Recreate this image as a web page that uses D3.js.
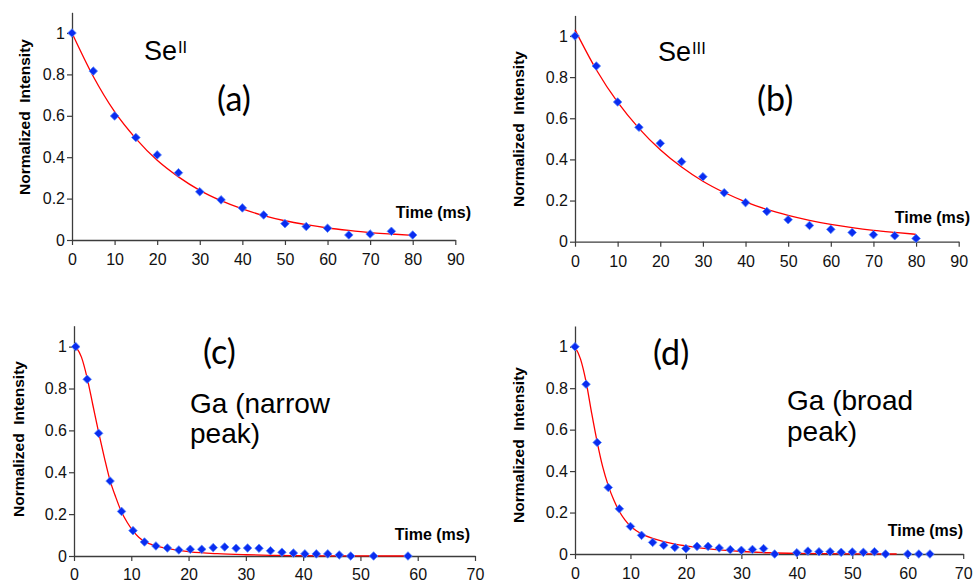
<!DOCTYPE html>
<html>
<head>
<meta charset="utf-8">
<script src="https://cdn.jsdelivr.net/npm/d3@7/dist/d3.min.js"></script>
<style>
  html, body { margin: 0; padding: 0; background: #fff; }
  svg { display: block; }
</style>
</head>
<body>
<svg id="chart" width="973" height="584"></svg>
<script>
// ---------- DATA ----------
const yTicks = [0, 0.2, 0.4, 0.6, 0.8, 1];
const xTicksSe = [0, 10, 20, 30, 40, 50, 60, 70, 80, 90];
const xTicksGa = [0, 10, 20, 30, 40, 50, 60, 70];

// (a) Se II
const timesA = [0, 5, 10, 15, 20, 25, 30, 35, 40, 45, 50, 55, 60, 65, 70, 75, 80];
const valuesA = [1.0, 0.816, 0.599, 0.495, 0.411, 0.325, 0.233, 0.194, 0.155, 0.121, 0.079, 0.065, 0.057, 0.024, 0.029, 0.042, 0.024];
const fitTimesA = [0, 5, 10, 15, 20, 25, 30, 35, 40, 45, 50, 55, 60, 65, 70, 75, 80];
const fitValuesA = [1.0, 0.79, 0.62, 0.49, 0.385, 0.305, 0.24, 0.19, 0.15, 0.118, 0.093, 0.074, 0.058, 0.046, 0.036, 0.029, 0.022];

// (b) Se III
const timesB = [0, 5, 10, 15, 20, 25, 30, 35, 40, 45, 50, 55, 60, 65, 70, 75, 80];
const valuesB = [1.0, 0.854, 0.679, 0.556, 0.478, 0.389, 0.316, 0.238, 0.190, 0.147, 0.107, 0.079, 0.060, 0.045, 0.034, 0.029, 0.016];
const fitTimesB = [0, 5, 10, 15, 20, 25, 30, 35, 40, 45, 50, 55, 60, 65, 70, 75, 80];
const fitValuesB = [1.03, 0.836, 0.678, 0.551, 0.447, 0.363, 0.294, 0.239, 0.194, 0.157, 0.128, 0.104, 0.084, 0.068, 0.055, 0.045, 0.036];

// (c) Ga narrow peak
const timesC = [0.3, 2.3, 4.3, 6.3, 8.3, 10.3, 12.3, 14.3, 16.3, 18.3, 20.3, 22.3, 24.3, 26.3, 28.3, 30.3, 32.3, 34.3, 36.3, 38.3, 40.3, 42.3, 44.3, 46.3, 48.3, 52.3, 58.3];
const valuesC = [1.0, 0.844, 0.586, 0.358, 0.213, 0.121, 0.067, 0.048, 0.038, 0.029, 0.032, 0.032, 0.040, 0.043, 0.037, 0.038, 0.037, 0.025, 0.018, 0.014, 0.010, 0.010, 0.010, 0.005, 0.0, 0.0, 0.0];
const fitTimesC = [0.3, 1.3, 2.3, 3.3, 4.3, 5.3, 6.3, 7.3, 8.3, 9.3, 10.3, 11.3, 12.3, 14.3, 16.3, 18.3, 20.3, 25, 30, 35, 40, 50, 58.3];
const fitValuesC = [1.0, 0.95, 0.85, 0.72, 0.59, 0.47, 0.36, 0.28, 0.21, 0.16, 0.12, 0.09, 0.07, 0.048, 0.036, 0.027, 0.02, 0.011, 0.006, 0.003, 0.0015, 0.0003, 0.0];

// (d) Ga broad peak
const timesD = [0, 2, 4, 6, 8, 10, 12, 14, 16, 18, 20, 22, 24, 26, 28, 30, 32, 34, 36, 40, 42, 44, 46, 48, 50, 52, 54, 56, 60, 62, 64];
const valuesD = [1.0, 0.819, 0.538, 0.321, 0.218, 0.133, 0.090, 0.056, 0.042, 0.032, 0.026, 0.037, 0.037, 0.029, 0.021, 0.018, 0.022, 0.026, 0.0, 0.006, 0.014, 0.011, 0.011, 0.008, 0.010, 0.008, 0.011, 0.0, 0.0, 0.0, 0.0];
const fitTimesD = [0, 1, 2, 3, 4, 5, 6, 7, 8, 9, 10, 11, 12, 14, 16, 18, 20, 25, 30, 35, 40, 50, 58];
const fitValuesD = [1.0, 0.94, 0.83, 0.68, 0.54, 0.42, 0.33, 0.26, 0.205, 0.165, 0.135, 0.113, 0.097, 0.075, 0.06, 0.048, 0.039, 0.022, 0.012, 0.006, 0.003, 0.001, 0.0];

// ---------- LAYOUT ----------
const panels = [
  { times: timesA, values: valuesA, fitT: fitTimesA, fitV: fitValuesA, xMax: 90, xTicks: xTicksSe,
    xr: [72, 455.3], yr: [240, 12.3], labPad: 9,
    yTitle: { x: 30, y: 117 }, timeLbl: { x: 471, y: 218 } },
  { times: timesB, values: valuesB, fitT: fitTimesB, fitV: fitValuesB, xMax: 90, xTicks: xTicksSe,
    xr: [575, 958.7], yr: [241.7, 15.4], labPad: 9,
    yTitle: { x: 524, y: 129 }, timeLbl: { x: 970, y: 223 } },
  { times: timesC, values: valuesC, fitT: fitTimesC, fitV: fitValuesC, xMax: 70, xTicks: xTicksGa,
    xr: [74, 475], yr: [556, 325.7], labPad: 8,
    yTitle: { x: 23.5, y: 439 }, timeLbl: { x: 470, y: 540 } },
  { times: timesD, values: valuesD, fitT: fitTimesD, fitV: fitValuesD, xMax: 70, xTicks: xTicksGa,
    xr: [575, 963.2], yr: [554, 326], labPad: 9,
    yTitle: { x: 523.5, y: 445 }, timeLbl: { x: 963, y: 536 } }
];

const svg = d3.select("#chart");
svg.append("rect").attr("width", 973).attr("height", 584).attr("fill", "#fff");

const AXIS_COLOR = "#3c3c3c";
const diamond = "M0,-4.3L4.3,0L0,4.3L-4.3,0Z";

panels.forEach(p => {
  const x = d3.scaleLinear().domain([0, p.xMax]).range(p.xr);
  const y = d3.scaleLinear().domain([0, 1.1]).range(p.yr);

  const gy = svg.append("g")
    .attr("transform", `translate(${p.xr[0]},0)`)
    .call(d3.axisLeft(y).tickValues(yTicks).tickSize(5).tickSizeOuter(0).tickPadding(2)
      .tickFormat(d => String(d)));
  const gx = svg.append("g")
    .attr("transform", `translate(0,${p.yr[0]})`)
    .call(d3.axisBottom(x).tickValues(p.xTicks).tickSize(5).tickSizeOuter(0).tickPadding(p.labPad)
      .tickFormat(d => String(d)));

  [gx, gy].forEach(g => {
    g.selectAll("path.domain").attr("stroke", AXIS_COLOR).attr("stroke-width", 1.3);
    g.selectAll(".tick line").attr("stroke", AXIS_COLOR).attr("stroke-width", 1.2);
    g.selectAll(".tick text")
      .attr("fill", "#111")
      .attr("font-family", "'Liberation Sans', Arial, sans-serif")
      .attr("font-size", 16);
  });

  const fit = p.fitT.map((t, i) => [t, p.fitV[i]]);
  svg.append("path")
    .datum(fit)
    .attr("fill", "none")
    .attr("stroke", "#ff0000")
    .attr("stroke-width", 1.3)
    .attr("d", d3.line().x(d => x(d[0])).y(d => y(d[1])).curve(d3.curveMonotoneX));

  svg.append("g").selectAll("path")
    .data(p.times.map((t, i) => [t, p.values[i]]))
    .join("path")
    .attr("d", diamond)
    .attr("transform", d => `translate(${x(d[0])},${y(d[1])})`)
    .attr("fill", "#0a2cf0")
    .attr("stroke", "#5a8aff")
    .attr("stroke-width", 0.8);

  svg.append("text")
    .attr("transform", `translate(${p.yTitle.x},${p.yTitle.y}) rotate(-90)`)
    .attr("text-anchor", "middle")
    .attr("font-family", "'Liberation Sans', Arial, sans-serif")
    .attr("font-weight", "bold")
    .attr("font-size", 15.5)
    .attr("fill", "#000")
    .style("white-space", "pre")
    .text("Normalized  Intensity");

  svg.append("text")
    .attr("x", p.timeLbl.x).attr("y", p.timeLbl.y)
    .attr("text-anchor", "end")
    .attr("font-family", "'Liberation Sans', Arial, sans-serif")
    .attr("font-weight", "bold")
    .attr("font-size", 16)
    .attr("fill", "#000")
    .text("Time (ms)");
});

// ---------- ANNOTATIONS ----------
const sans = "'Liberation Sans', Arial, sans-serif";
const calib = "Lato, 'Open Sans', sans-serif";

function seLabel(xPos, yPos, sup) {
  const t = svg.append("text").attr("x", xPos).attr("y", yPos)
    .attr("font-family", sans).attr("font-size", 27).attr("fill", "#000");
  t.append("tspan").text("Se");
  t.append("tspan").attr("font-size", 16.5).attr("dy", -7).attr("dx", 1).text(sup);
}
seLabel(144, 60, "II");
seLabel(658, 61, "III");

function letterLabel(xPos, yPos, s) {
  svg.append("text").attr("x", xPos).attr("y", yPos)
    .attr("font-family", calib).attr("font-size", 34).attr("fill", "#000").text(s);
}
letterLabel(217, 111, "(a)");
letterLabel(757, 111, "(b)");
letterLabel(203, 364, "(c)");
letterLabel(653, 365, "(d)");

function twoLine(xPos, yPos, l1, l2, gap) {
  const t = svg.append("text").attr("font-family", sans).attr("font-size", 28).attr("fill", "#000");
  t.append("tspan").attr("x", xPos).attr("y", yPos).text(l1);
  t.append("tspan").attr("x", xPos).attr("y", yPos + gap).text(l2);
}
twoLine(190, 413, "Ga (narrow", "peak)", 30);
twoLine(787, 410, "Ga (broad", "peak)", 31);
</script>
</body>
</html>
